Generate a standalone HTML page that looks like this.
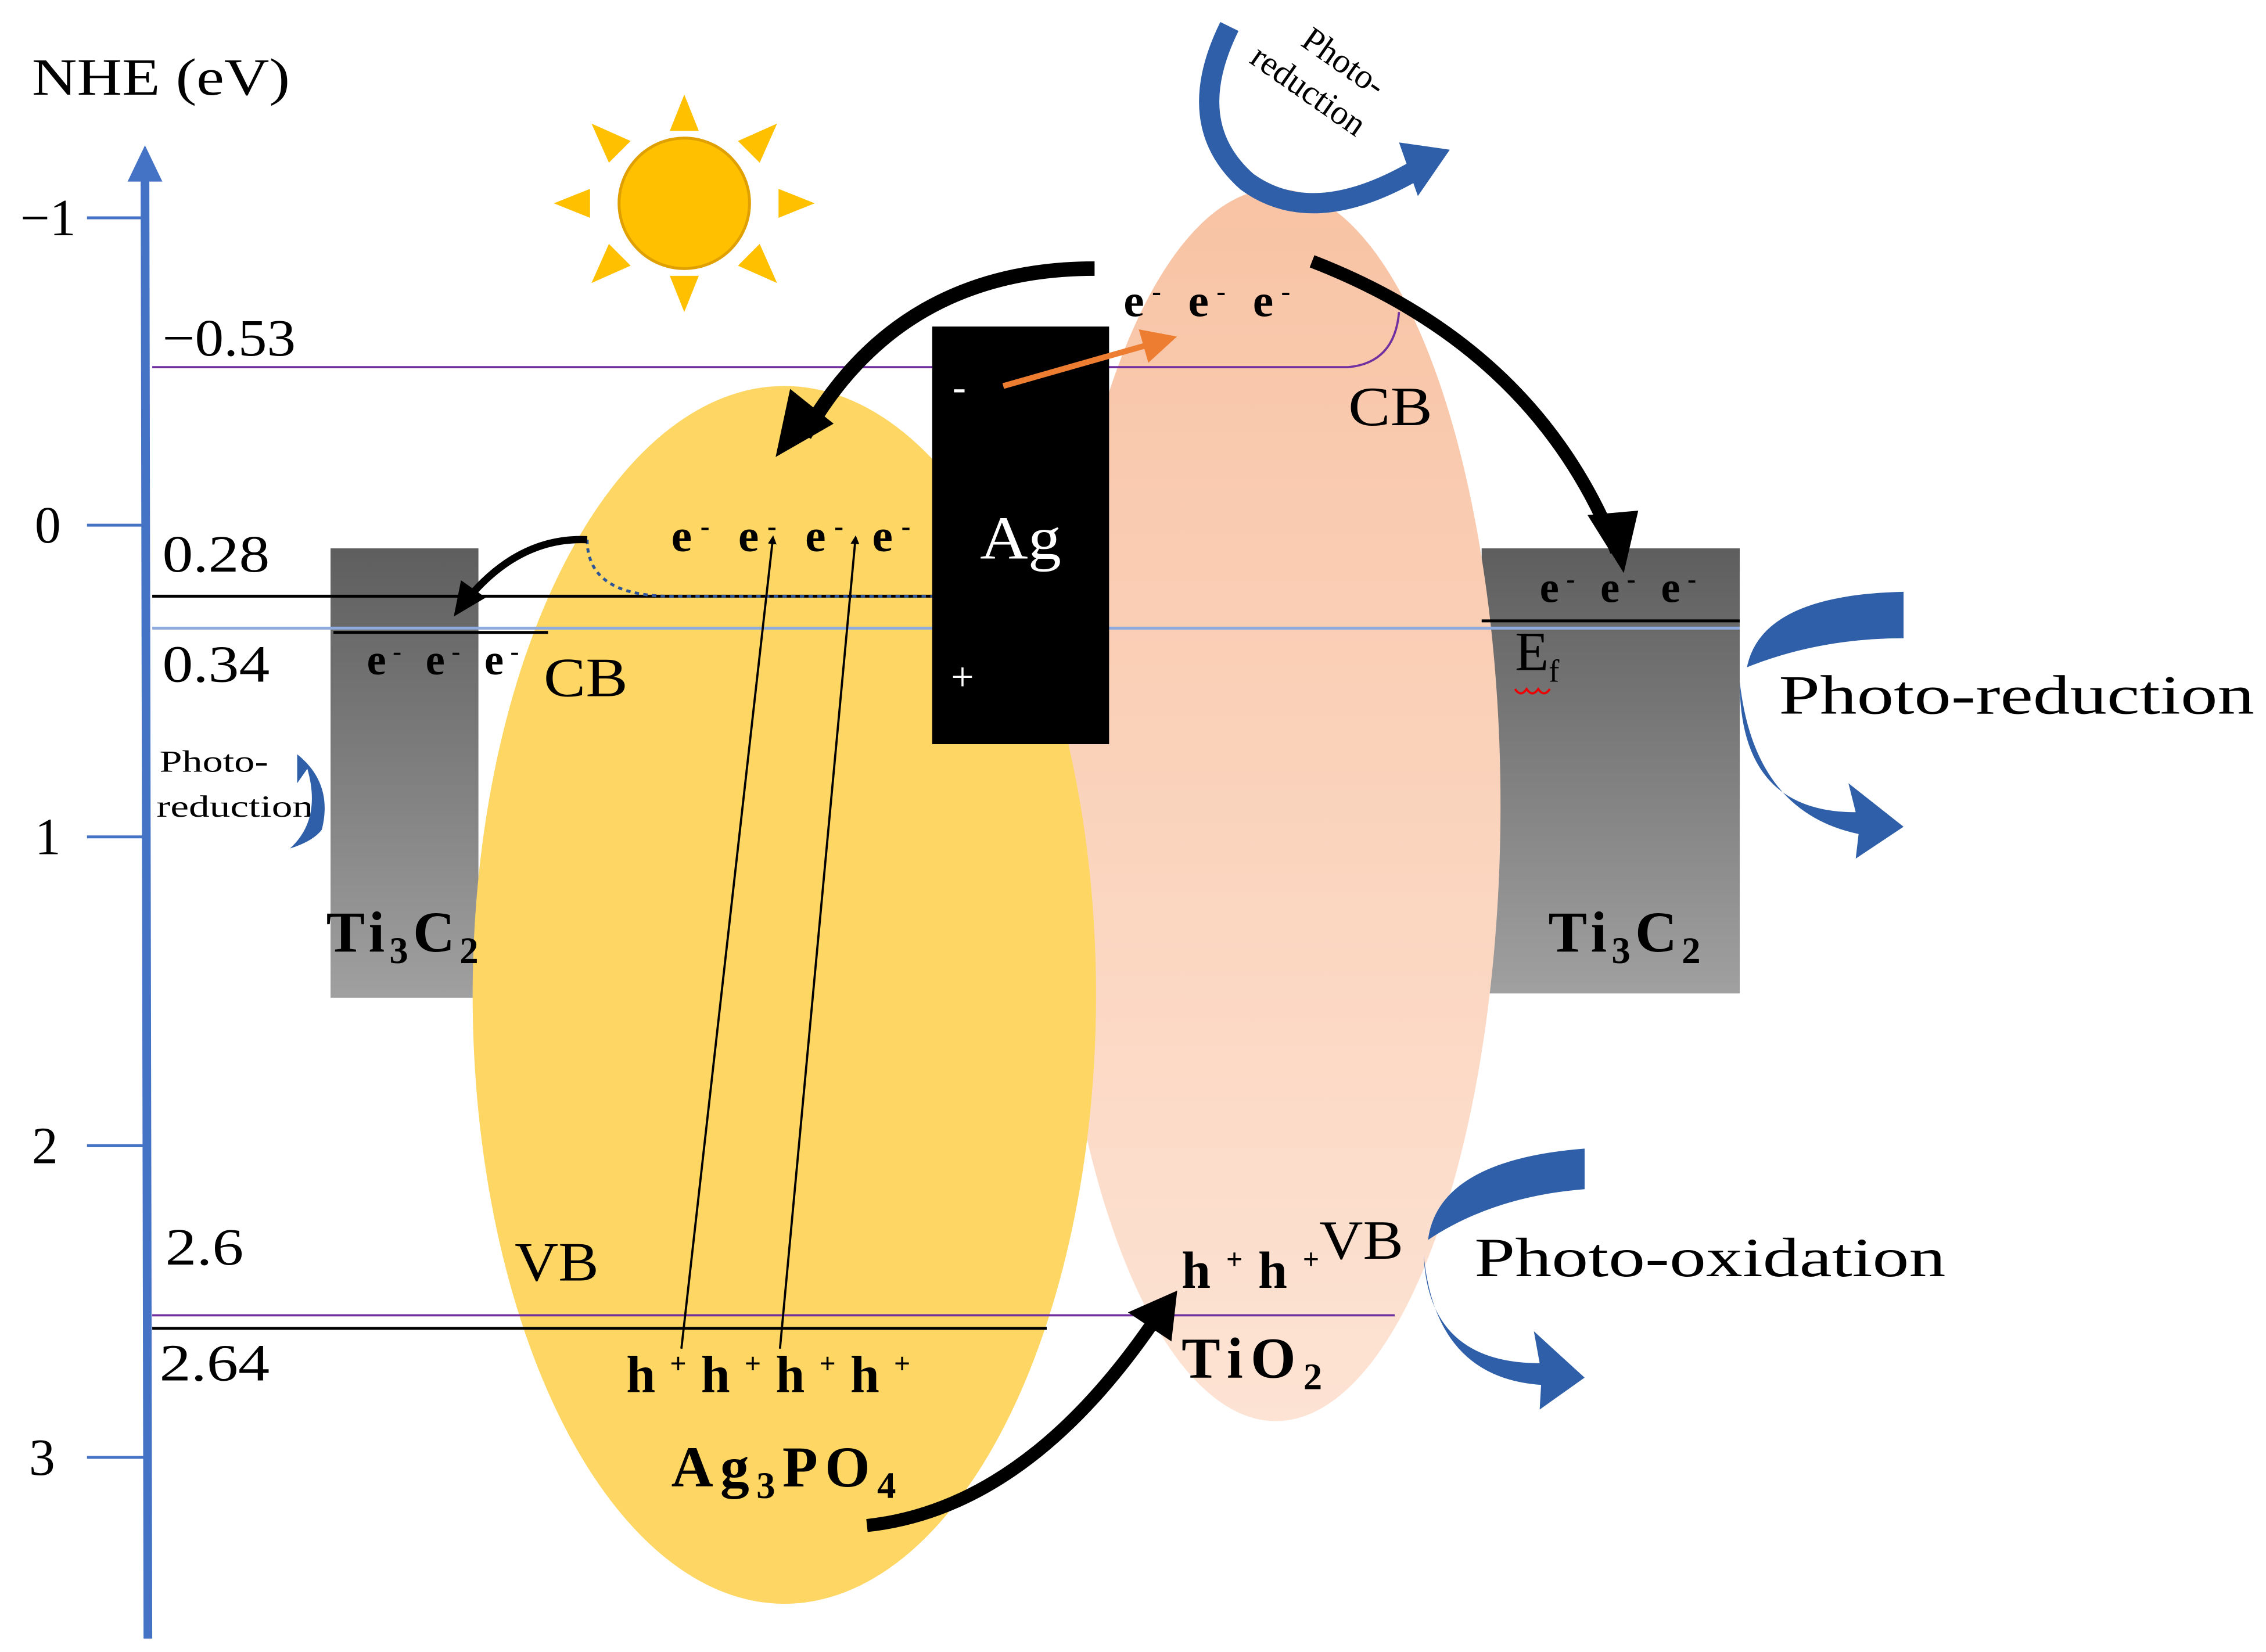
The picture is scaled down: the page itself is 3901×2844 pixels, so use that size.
<!DOCTYPE html>
<html><head><meta charset="utf-8"><style>
html,body{margin:0;padding:0;background:#fff;}
svg{display:block;}
text{font-family:"Liberation Serif",serif;}
</style></head><body>
<svg width="3901" height="2844" viewBox="0 0 1563 1139" xmlns="http://www.w3.org/2000/svg">
<defs>
<linearGradient id="g" x1="0" y1="0" x2="0" y2="1"><stop offset="0" stop-color="#5e5e5e"/><stop offset="1" stop-color="#a0a0a0"/></linearGradient>
<linearGradient id="p" x1="0" y1="0" x2="0" y2="1"><stop offset="0" stop-color="#f8c3a4"/><stop offset="1" stop-color="#fde3d4"/></linearGradient>
<marker id="or" markerWidth="6" markerHeight="6" refX="5" refY="3" orient="auto" markerUnits="strokeWidth"><path d="M0,0 L6,3 L0,6 z" fill="#ed7d31"/></marker>
<marker id="tk" markerWidth="4" markerHeight="4" refX="2" refY="2" orient="auto" markerUnits="strokeWidth"><path d="M0,0 L4,2 L0,4 z" fill="#000"/></marker>
</defs>
<rect x="228" y="378" width="102" height="310" fill="url(#g)"/>
<rect x="1022" y="378" width="178" height="307" fill="url(#g)"/>
<ellipse cx="880" cy="555" rx="155" ry="425" fill="url(#p)"/>
<ellipse cx="541" cy="686" rx="215" ry="420" fill="#fdd663"/>
<line x1="102" y1="1130" x2="100" y2="120" stroke="#4472c4" stroke-width="6"/>
<path d="M88,125 L100,100 L112,125 z" fill="#4472c4"/>
<g stroke="#4472c4" stroke-width="2">
<line x1="60" y1="150" x2="100" y2="150"/><line x1="60" y1="362" x2="100" y2="362"/>
<line x1="60" y1="577" x2="100" y2="577"/><line x1="60" y1="790" x2="100" y2="790"/>
<line x1="60" y1="1005" x2="100" y2="1005"/></g>
<g font-size="36" fill="#000">
<text x="22" y="65" textLength="178" lengthAdjust="spacingAndGlyphs">NHE (eV)</text>
<text x="14" y="162">−1</text><text x="24" y="374">0</text><text x="24" y="589">1</text>
<text x="22" y="802">2</text><text x="20" y="1017">3</text>
<text x="112" y="245" textLength="92" lengthAdjust="spacingAndGlyphs">−0.53</text>
<text x="112" y="394" textLength="74" lengthAdjust="spacingAndGlyphs">0.28</text>
<text x="112" y="470" textLength="74" lengthAdjust="spacingAndGlyphs">0.34</text>
<text x="114" y="872" textLength="54" lengthAdjust="spacingAndGlyphs">2.6</text>
<text x="110" y="952" textLength="76" lengthAdjust="spacingAndGlyphs">2.64</text>
</g>
<path d="M105,253 L930,253 Q962,250 965,215" fill="none" stroke="#7030a0" stroke-width="1.5"/>
<line x1="105" y1="411" x2="643" y2="411" stroke="#000" stroke-width="2"/>
<line x1="105" y1="433" x2="1200" y2="433" stroke="#8faadc" stroke-width="2"/>
<line x1="230" y1="436" x2="378" y2="436" stroke="#000" stroke-width="2"/>
<line x1="1022" y1="428" x2="1200" y2="428" stroke="#000" stroke-width="2"/>
<line x1="105" y1="907" x2="962" y2="907" stroke="#7030a0" stroke-width="1.5"/>
<line x1="105" y1="916" x2="722" y2="916" stroke="#000" stroke-width="2"/>
<path d="M405,372 Q405,410 460,411 L643,411" fill="none" stroke="#2e5597" stroke-width="2" stroke-dasharray="3,3"/>
<rect x="643" y="225" width="122" height="288" fill="#000"/>
<text x="676" y="385" font-size="42" fill="#fff" textLength="56" lengthAdjust="spacingAndGlyphs">Ag</text>
<text x="657" y="276" font-size="28" fill="#fff">-</text>
<text x="656" y="476" font-size="28" fill="#fff">+</text>
<line x1="692" y1="266" x2="808" y2="233" stroke="#ed7d31" stroke-width="4" marker-end="url(#or)"/>
<circle cx="472" cy="140" r="45" fill="#ffc000" stroke="#e0a000" stroke-width="2"/>
<g fill="#ffc000">
<path d="M472,65 L462,90 L482,90z"/><path d="M472,215 L462,190 L482,190z"/>
<path d="M382,140 L407,130 L407,150z"/><path d="M562,140 L537,130 L537,150z"/>
<path d="M408,85 L435,97 L420,112z"/><path d="M536,85 L509,97 L524,112z"/>
<path d="M408,195 L420,168 L435,183z"/><path d="M536,195 L524,168 L509,183z"/>
</g>
<path d="M755,185 Q620,185 555,300" fill="none" stroke="#000" stroke-width="10"/>
<path d="M535,315 L545,268 L575,292 z" fill="#000"/>
<path d="M905,180 Q1060,240 1115,380" fill="none" stroke="#000" stroke-width="9"/>
<path d="M1120,395 L1095,355 L1130,352 z" fill="#000"/>
<path d="M405,372 Q360,370 325,410" fill="none" stroke="#000" stroke-width="5"/>
<path d="M313,425 L318,400 L335,412 z" fill="#000"/>
<path d="M598,1052 Q710,1040 800,905" fill="none" stroke="#000" stroke-width="9"/>
<path d="M812,890 L778,905 L808,925 z" fill="#000"/>
<line x1="470" y1="930" x2="533" y2="372" stroke="#000" stroke-width="1.5" marker-end="url(#tk)"/>
<line x1="538" y1="930" x2="590" y2="372" stroke="#000" stroke-width="1.5" marker-end="url(#tk)"/>
<g font-weight="bold" font-size="32" fill="#000">
<text x="775" y="218" textLength="115" lengthAdjust="spacing">e<tspan dy="-11" font-size="19">-</tspan><tspan dy="11"> e</tspan><tspan dy="-11" font-size="19">-</tspan><tspan dy="11"> e</tspan><tspan dy="-11" font-size="19">-</tspan></text>
<text x="463" y="380" textLength="165" lengthAdjust="spacing">e<tspan dy="-11" font-size="19">-</tspan><tspan dy="11"> e</tspan><tspan dy="-11" font-size="19">-</tspan><tspan dy="11"> e</tspan><tspan dy="-11" font-size="19">-</tspan><tspan dy="11"> e</tspan><tspan dy="-11" font-size="19">-</tspan></text>
<text x="1062" y="415" font-size="30" textLength="108" lengthAdjust="spacing">e<tspan dy="-10" font-size="18">-</tspan><tspan dy="10"> e</tspan><tspan dy="-10" font-size="18">-</tspan><tspan dy="10"> e</tspan><tspan dy="-10" font-size="18">-</tspan></text>
<text x="253" y="465" font-size="30" textLength="105" lengthAdjust="spacing">e<tspan dy="-10" font-size="18">-</tspan><tspan dy="10"> e</tspan><tspan dy="-10" font-size="18">-</tspan><tspan dy="10"> e</tspan><tspan dy="-10" font-size="18">-</tspan></text>
<text x="432" y="960" font-size="36" textLength="196" lengthAdjust="spacing">h<tspan dy="-13" font-size="20">+</tspan><tspan dy="13">h</tspan><tspan dy="-13" font-size="20">+</tspan><tspan dy="13">h</tspan><tspan dy="-13" font-size="20">+</tspan><tspan dy="13">h</tspan><tspan dy="-13" font-size="20">+</tspan></text>
<text x="815" y="888" font-size="36" textLength="95" lengthAdjust="spacing">h<tspan dy="-13" font-size="20">+</tspan><tspan dy="13">h</tspan><tspan dy="-13" font-size="20">+</tspan></text>
<text x="463" y="1025" font-size="40" textLength="155" lengthAdjust="spacing">Ag<tspan dy="8" font-size="26">3</tspan><tspan dy="-8">PO</tspan><tspan dy="8" font-size="26">4</tspan></text>
<text x="225" y="656" font-size="40" textLength="105" lengthAdjust="spacing">Ti<tspan dy="8" font-size="26">3</tspan><tspan dy="-8">C</tspan><tspan dy="8" font-size="26">2</tspan></text>
<text x="1068" y="656" font-size="40" textLength="105" lengthAdjust="spacing">Ti<tspan dy="8" font-size="26">3</tspan><tspan dy="-8">C</tspan><tspan dy="8" font-size="26">2</tspan></text>
<text x="815" y="950" font-size="40" textLength="97" lengthAdjust="spacing">TiO<tspan dy="8" font-size="26">2</tspan></text>
</g>
<g font-size="38" fill="#000">
<text x="375" y="480" textLength="58" lengthAdjust="spacingAndGlyphs">CB</text>
<text x="930" y="293" textLength="58" lengthAdjust="spacingAndGlyphs">CB</text>
<text x="355" y="883" textLength="58" lengthAdjust="spacingAndGlyphs">VB</text>
<text x="910" y="868" textLength="58" lengthAdjust="spacingAndGlyphs">VB</text>
<text x="1045" y="462">E<tspan dy="8" font-size="22">f</tspan></text>
<text x="1227" y="492" textLength="328" lengthAdjust="spacingAndGlyphs">Photo-reduction</text>
<text x="1017" y="880" textLength="325" lengthAdjust="spacingAndGlyphs">Photo-oxidation</text>
</g>
<path d="M1045,475 q4,6 8,0 q4,6 8,0 q4,6 8,0" fill="none" stroke="#e00" stroke-width="1.5"/>
<g font-size="21" fill="#000">
<text x="110" y="532" textLength="75" lengthAdjust="spacingAndGlyphs">Photo-</text>
<text x="108" y="563" textLength="108" lengthAdjust="spacingAndGlyphs">reduction</text>
</g>
<g font-size="24" fill="#000" transform="rotate(35 900 60)">
<text x="880" y="38">Photo-</text><text x="858" y="68">reduction</text>
</g>
<g fill="#2e5fa8">
<path d="M1205,460 Q1215,410 1313,408 L1313,440 Q1255,440 1205,460 z"/>
<path d="M1200,470 Q1200,560 1280,560 L1275,540 L1313,570 L1280,592 L1282,575 Q1210,560 1200,470 z"/>
<path d="M985,855 Q992,800 1093,792 L1093,820 Q1030,825 985,855 z"/>
<path d="M982,865 Q985,940 1062,940 L1058,918 L1093,950 L1062,972 L1063,955 Q990,950 982,865 z"/>
<path d="M205,520 Q230,540 222,572 Q216,580 200,585 Q222,565 212,530 L205,540 z"/>
<path d="M975,102 L998,104 L982,122 z"/>
</g>
<path d="M848,18 Q815,85 860,125 Q905,158 975,118" fill="none" stroke="#2e5fa8" stroke-width="14"/>
<path d="M965,98 L1000,103 L978,135 z" fill="#2e5fa8"/>
</svg>
</body></html>
